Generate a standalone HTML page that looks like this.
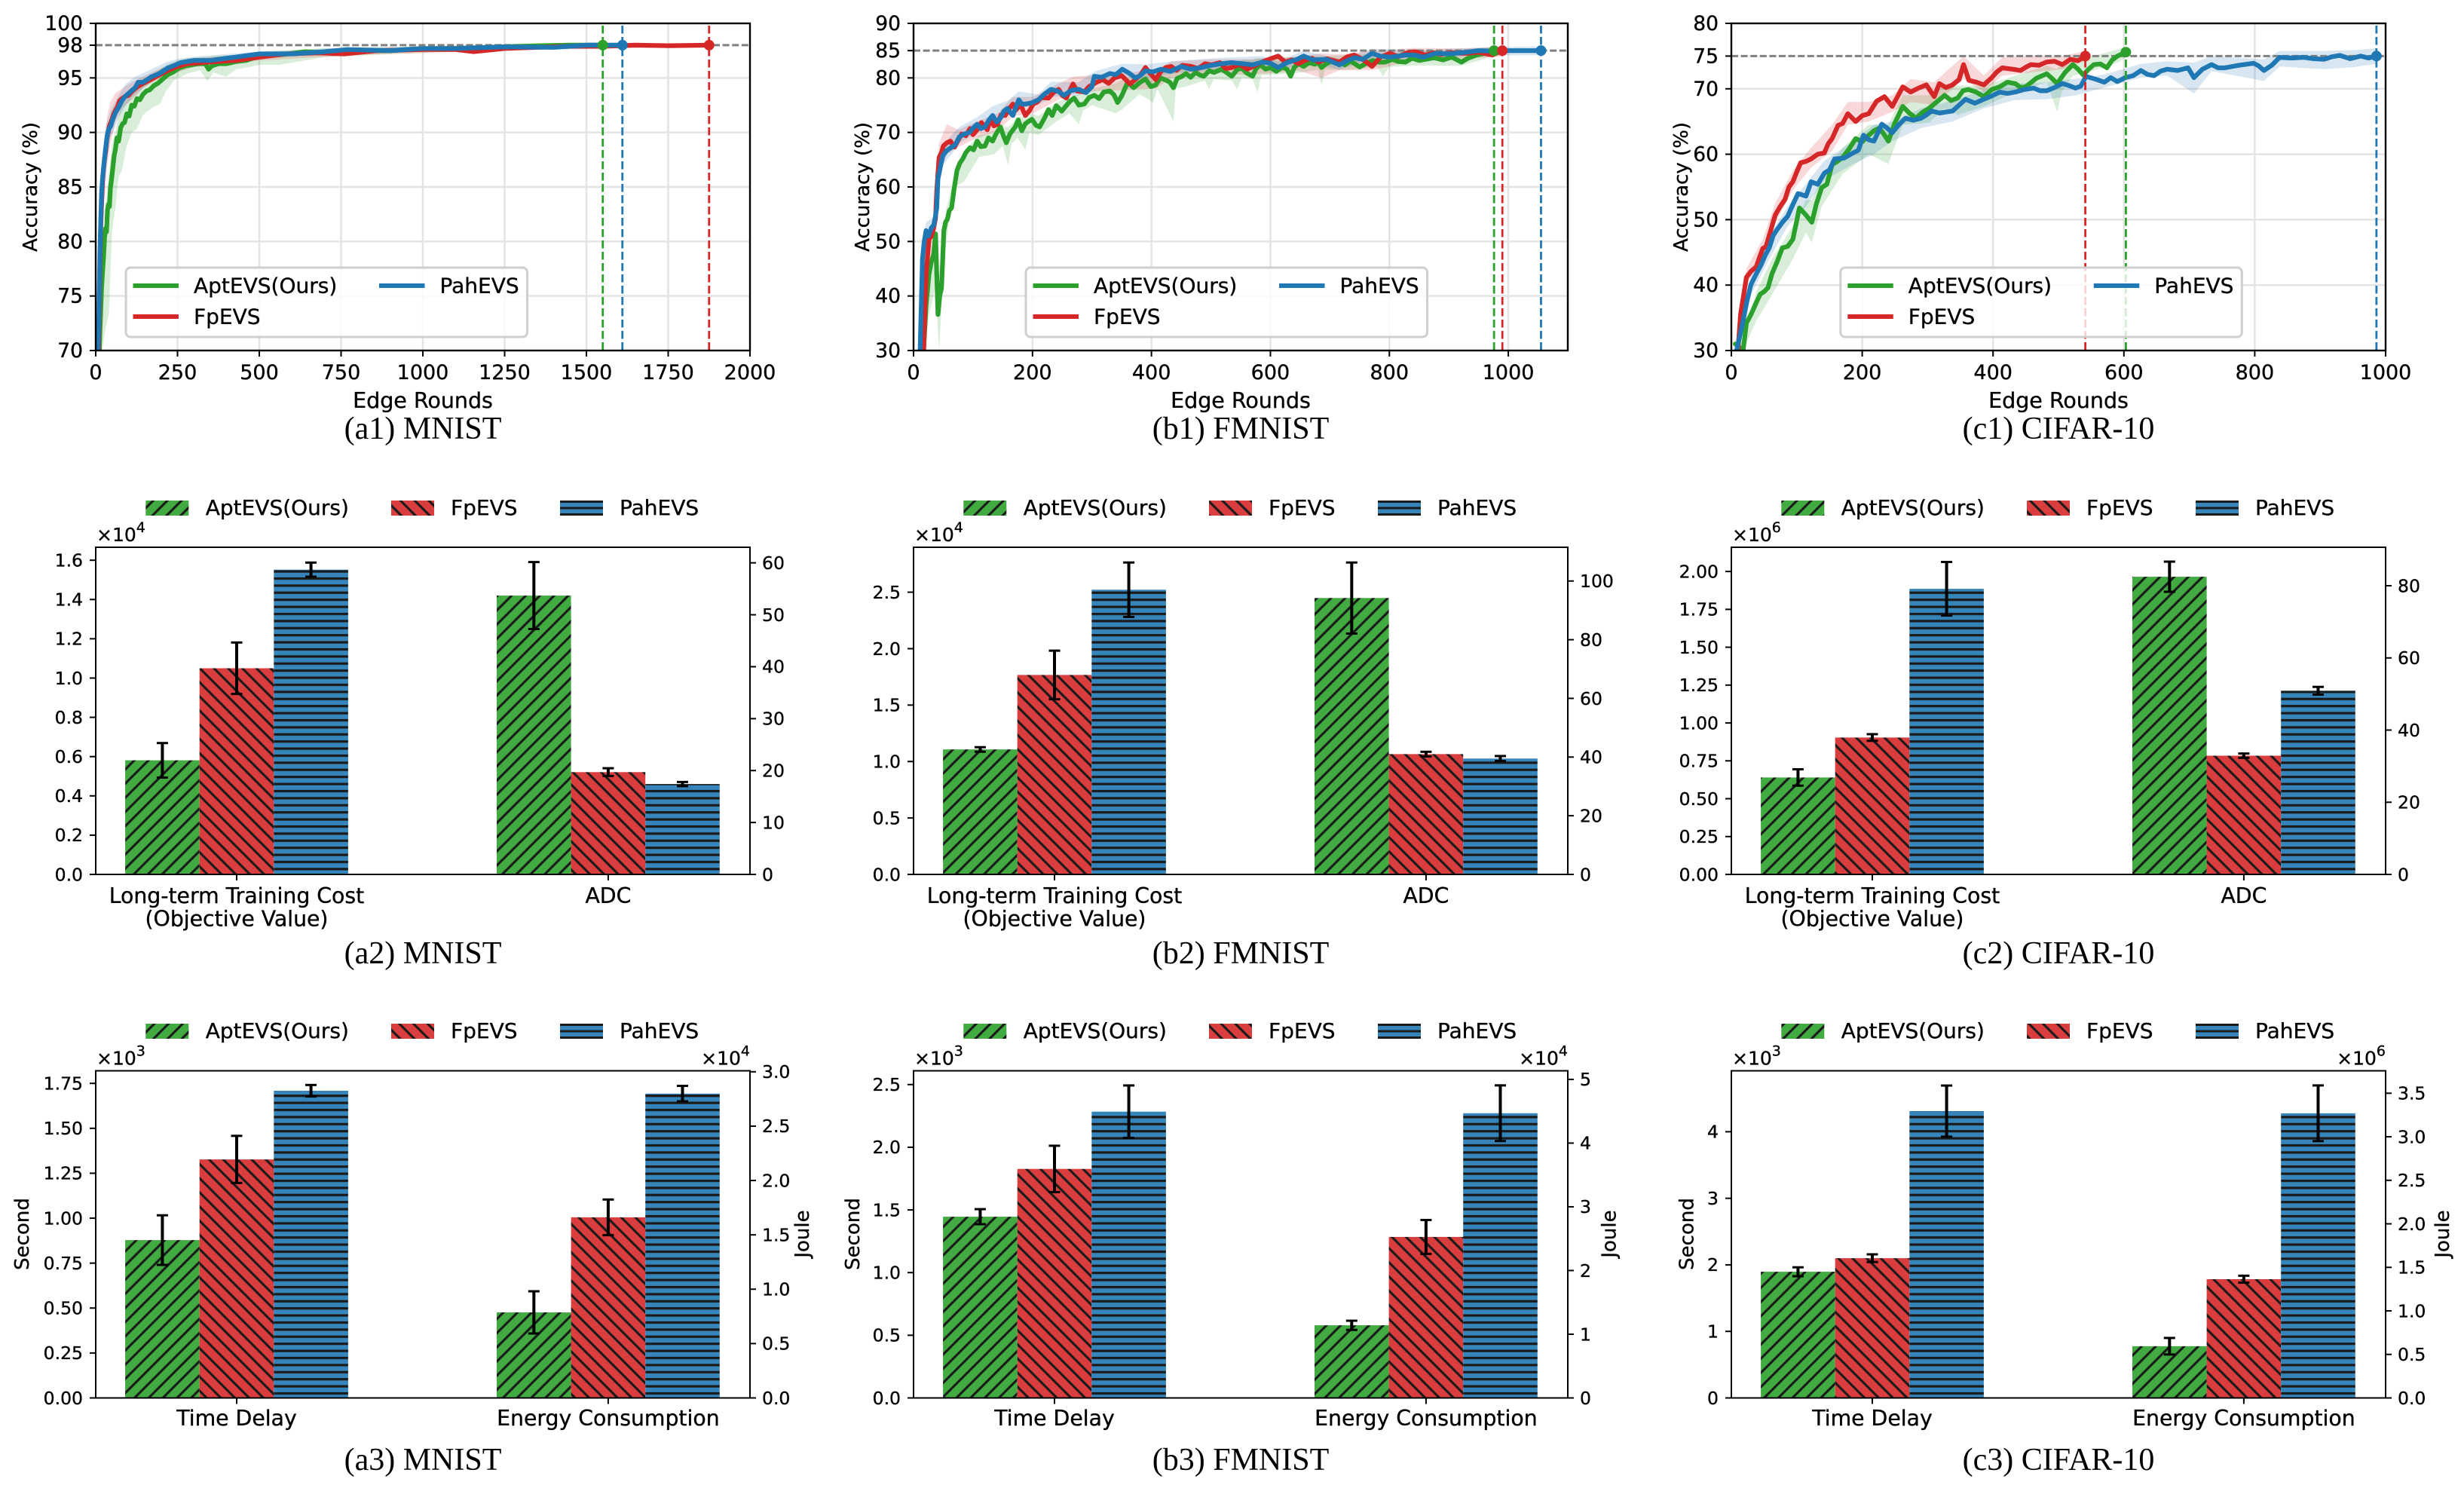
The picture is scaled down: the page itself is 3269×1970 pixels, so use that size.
<!DOCTYPE html>
<html lang="en">
<head>
<meta charset="utf-8">
<title>EVS comparison charts</title>
<style>
html,body{margin:0;padding:0;background:#fff;width:3269px;height:1970px;overflow:hidden}
svg{display:block}
text{font-family:"DejaVu Sans","Liberation Sans",sans-serif;fill:#000;stroke:#000;stroke-width:.35px}
text.caption{font-family:"Liberation Serif","DejaVu Serif",serif;stroke:none}
</style>
</head>
<body>
<svg id="figure" xmlns="http://www.w3.org/2000/svg" width="3269" height="1970" viewBox="0 0 3269 1970">
<defs>
<pattern id="hatch-green" patternUnits="userSpaceOnUse" width="18.8" height="18.8" patternTransform="translate(2.5 0)">
<rect width="18.8" height="18.8" fill="#41aa41"/>
<path d="M-2,20.8 L20.8,-2 M-2,2 L2,-2 M16.8,20.8 L20.8,16.8" stroke="#1a1a1a" stroke-width="3.1" fill="none"/>
</pattern>
<pattern id="hatch-red" patternUnits="userSpaceOnUse" width="18.8" height="18.8" patternTransform="translate(-1.1 0)">
<rect width="18.8" height="18.8" fill="#da3d3e"/>
<path d="M-2,-2 L20.8,20.8 M16.8,-2 L20.8,2 M-2,16.8 L2,20.8" stroke="#1a1a1a" stroke-width="3.1" fill="none"/>
</pattern>
<pattern id="hatch-blue" patternUnits="userSpaceOnUse" width="20" height="9.4" patternTransform="translate(0 784.7)">
<rect width="20" height="9.4" fill="#3585bb"/>
<rect width="20" height="3.2" fill="#1a1a1a"/>
</pattern>
</defs>
</svg>
<script>
/* ---------- shared labels ---------- */
const seriesNames = ['AptEVS(Ours)', 'FpEVS', 'PahEVS'];

/* ---------- (a1) MNIST accuracy ---------- */
const a1XTicks = ['0','250','500','750','1000','1250','1500','1750','2000'];
const a1YTicks = ['70','75','80','85','90','95','98','100'];
const a1GridY = [75,80,85,90,95];
const a1Target = [98];
const mnistAptRounds = [11,13,15,18,21,24,27,30,33,36,39,42,45,48,52,56,60,65,70,76,82,88,95,102,110,118,126,135,145,155,165,178,190,205,220,235,255,275,295,315,335,345,355,375,400,430,460,490,520,550,590,640,700,760,820,900,1000,1060,1130,1250,1350,1450,1550];
const mnistAptAcc = [70,71.8,73.4,75.8,77.2,78.6,80.3,81.2,80.9,82.9,83.4,83.2,84.9,85.6,86.7,87.8,88.4,89.5,89.2,90.4,90.8,90.9,91.7,91.5,92.5,92.4,93.1,93,93.5,93.8,93.9,94.3,94.5,94.9,95.3,95.5,95.9,96.1,96.2,96.3,96.3,95.8,96.1,96.3,96.3,96.5,96.6,96.9,97,97.1,97.2,97.4,97.3,97.5,97.5,97.5,97.7,97.6,97.7,97.85,97.95,98,98];
const mnistAptBandRounds = [11,20,30,40,50,60,70,80,95,110,125,145,160,175,196,215,240,280,320,341,360,398,430,470,500,560,700,1000,1300,1550];
const mnistAptLow = [70,70,72,73.3,81,83,86,86.5,88.8,90,90.3,91.6,92,92.3,92.6,93.8,94.8,95.4,95.7,94.7,95.5,95.1,95.8,96,96.2,96.2,96.9,97.3,97.7,97.8];
const mnistAptHigh = [71,77,83,86,89,90,91.5,92.5,93,93.7,94.4,94.9,95.1,95.4,95.8,96.2,96.5,96.8,96.9,96.9,97,97.1,97.1,97.3,97.4,97.5,97.7,97.9,98.1,98.2];
const mnistFpRounds = [9,11,13,15,18,21,24,27,30,34,38,42,46,50,55,60,66,73,80,90,100,112,128,145,165,190,215,245,280,320,370,430,500,580,680,760,860,1000,1100,1155,1250,1350,1450,1550,1650,1750,1875];
const mnistFpAcc = [70,74,78,81,83.5,85.6,86.7,87.6,88.2,89.4,90,90.6,90.9,91.2,91.7,92,92.3,92.9,93.1,93.3,93.4,93.8,94.2,94.5,94.8,95.2,95.6,96,96.3,96.4,96.5,96.6,96.9,97.2,97.3,97.2,97.5,97.6,97.6,97.4,97.7,97.8,97.9,97.9,98,97.95,98];
const mnistFpBandRounds = [9,15,25,35,45,60,80,110,150,200,300,500,800,1200,1500,1875];
const mnistFpLow = [70,76,83.5,87,89,91,92.2,93,94.2,95,96,96.6,97.1,97.5,97.7,97.8];
const mnistFpHigh = [72,84,89,91.5,92.8,93.6,94,94.6,95.2,95.9,96.8,97.2,97.6,98,98.2,98.2];
const mnistPahRounds = [7,9,11,13,15,18,21,25,30,35,40,46,52,60,70,80,90,105,120,130,145,170,195,220,245,260,300,350,400,450,500,600,700,770,900,1000,1100,1250,1400,1500,1610];
const mnistPahAcc = [70,72,75.5,79,81.5,84.5,85.8,87,88.5,89.7,90.3,90.6,91.2,91.8,92.3,92.9,93.3,93.7,94.1,94.6,94.6,95.1,95.4,95.9,96.2,96.4,96.6,96.6,96.8,97,97.2,97.2,97.4,97.6,97.5,97.7,97.7,97.85,97.8,98,98];
const mnistPahBandRounds = [7,12,20,30,45,70,90,120,170,220,260,320,450,700,1000,1400,1610];
const mnistPahLow = [70,73,82,86.5,89.5,91.3,92.4,93.5,94.6,95.5,96,96.3,96.7,97.2,97.5,97.6,97.7];
const mnistPahHigh = [71,80,87,90.5,92,93.4,94.4,95.1,95.8,96.5,96.8,97,97.3,97.7,97.9,98.1,98.2];

/* ---------- (b1) FMNIST accuracy ---------- */
const b1XTicks = ['0','200','400','600','800','1000'];
const b1YTicks = ['30','40','50','60','70','80','85','90'];
const b1GridY = [40,50,60,70,80];
const b1Target = [85];
const fmnistAptRounds = [17,21,26,30,34,37,41,44,47,51,54,57,60,64,68,73,78,83,88,95,101,107,113,120,126,133,139,146,151,156,162,171,176,182,188,193,199,206,212,220,227,233,240,249,256,263,270,278,287,295,304,312,320,330,337,343,350,360,370,381,390,399,407,415,424,431,437,443,450,458,466,474,482,488,497,505,518,526,535,544,552,560,570,576,583,592,600,610,620,628,634,640,647,656,665,675,680,686,694,702,716,725,735,750,760,772,782,793,805,815,827,838,850,861,875,890,905,921,932,947,960,976];
const fmnistAptAcc = [30,38.2,44,46.3,47.7,51.4,36.6,40,41.4,52,53.6,54.1,55.6,56.2,59.5,63,64.4,65.2,66.3,67.2,66.8,68.4,67.4,67.5,69,68.4,69.8,71,69.4,68.1,69.7,71,72.3,70.3,71.6,72,72.4,71.3,71,72.6,74.2,73.1,74.9,73.9,74.8,75.7,76.3,75,75.2,76.4,76.8,76.2,77.4,77.6,76.9,75.5,76.7,79.2,78.2,79.2,79.8,78.4,78.7,80,79.6,79.2,78.2,79.9,80.2,80.8,80.1,81,80.5,80.3,81.3,81,81.6,81,80.3,81.5,81.8,80.9,80.3,81.7,82.4,81.6,81.9,81.2,82,81.6,80.3,81.9,82.6,82.1,82.8,82.5,82.9,81.9,82.6,83,82.9,82.4,83.1,82,82.6,83.2,82.9,82.9,83.4,83,82.9,83.6,83.2,83.4,83.7,83.3,83.8,82.9,83.6,84.2,84.5,85];
const fmnistAptBandRounds = [17,25,37,43,47,55,69,85,110,135,150,159,165,175,188,195,210,240,262,278,285,300,340,348,380,403,410,437,441,460,490,497,505,535,544,552,570,578,585,640,680,686,692,730,780,789,800,850,920,976];
const fmnistAptLow = [30,36,42,30,38,50,60,61,65.5,66,67.5,64,68,69,66.8,70,69.5,72,73.5,71.5,74,75,73.5,74,77,75.5,78,72,78,78.5,79.5,77.9,79.8,79.5,77.9,80,79.8,77.4,80.5,80.8,81.5,78.6,81.5,81.5,82,80.3,82,82.3,82.2,84];
const fmnistAptHigh = [32,43,50,42,46,56,62,66.5,69.5,70,71,71,71.5,72.8,73,73.5,73,75.5,76.5,77,77.5,78,79,79.5,80.5,81,81.5,81.5,81.8,82,82.6,82.6,82.8,83,83,83.3,83.3,83.6,83.6,83.8,84,84,84,84.2,84.4,84.4,84.6,85,85.2,85.6];
const fmnistFpRounds = [17,21,26,30,34,37,39,43,47,50,56,62,69,75,81,88,95,100,107,114,124,130,135,141,147,154,160,167,172,180,188,195,201,208,215,227,235,244,250,257,262,268,275,287,295,308,318,328,338,350,364,372,382,390,398,407,416,424,433,442,452,467,478,490,501,515,525,535,548,561,575,590,600,613,625,636,647,660,670,681,695,716,728,741,755,771,785,801,815,830,844,860,875,887,905,930,950,973,990];
const fmnistFpAcc = [30,44,50.4,51,52.5,54.3,59.4,65.4,66.3,67.5,68.1,68.4,67.3,68.6,69.7,69.4,70.7,69.6,70.5,71.8,70.5,72.6,71.2,71.5,73.2,73.1,74.3,75.2,74.1,75.1,73.1,74,75.2,75.6,76.4,76.3,77.3,77.9,76.8,76.3,77.5,78.9,77.6,77.4,78.4,79.2,79.7,79,80,80.4,78.9,79.6,80.6,81.9,80.8,79.7,81.2,81.9,82.1,81.4,82.3,82.1,81.7,82.6,82.4,82.8,81.7,81.9,82.5,81.6,82.3,83.1,83.5,84,82.9,83.3,82.6,83.3,83.6,82.9,83.5,82.9,83.8,84.2,83.4,82.1,83.8,84.5,83.9,84.6,84.8,84.2,84.6,84.3,84.6,84.5,84.7,84.2,85];
const fmnistFpBandRounds = [17,24,34,43,56,75,107,141,167,201,244,268,308,364,407,433,501,561,647,686,716,771,844,930,990];
const fmnistFpLow = [30,42,50,62,66,67.3,69,70.2,73,73.5,76,77,77.6,77.8,78,80,81,80.5,81.3,80,81.4,81.4,83.3,83.6,83.9];
const fmnistFpHigh = [31,47,54,68,71.5,70.5,72,73.5,76.5,76.5,79,80.2,80.6,81,81.5,83,83.4,83.4,83.9,84.5,84.3,85,85.5,85.4,85.8];
const fmnistPahRounds = [11,15,18,21,25,30,34,37,39,41,45,49,55,64,70,77,85,94,100,107,113,120,127,133,140,146,152,158,163,167,172,177,182,188,198,210,220,231,242,253,265,278,290,300,304,316,330,340,351,362,373,381,390,402,416,432,450,466,484,500,518,535,553,570,587,600,613,628,645,656,672,694,705,716,728,741,755,771,785,801,815,827,842,857,878,900,930,950,973,1000,1030,1055];
const fmnistPahAcc = [30,46.7,50,52,51,52.5,53,54.7,56.2,61.5,63.6,65.7,66.6,67.3,67.7,69.2,69.7,70,70.8,71.5,70.7,71,72.3,73.1,71.9,72.6,73.9,74.4,73.6,73.1,74.6,76,75.2,75.2,75.4,76,77,77.9,77.6,76.8,77.7,77.9,77.3,78.4,80.3,80.1,80.8,80.6,81.6,80.9,80,80.4,81.3,81.1,81.6,81.2,82.1,81.6,81.9,82.3,82.6,82.8,82.6,82.4,82.9,82.7,81.9,82.8,83.4,84,83.3,83.4,82.9,82.4,83.1,83.7,83.4,84.5,84,83.8,84,84.2,84.2,83.8,84.5,84.4,84.7,85,84.9,85,85,85];
const fmnistPahBandRounds = [11,15,21,34,41,49,64,77,107,133,158,177,210,231,278,304,351,390,450,518,587,613,656,716,771,857,930,1055];
const fmnistPahLow = [30,44,50,51.5,59,64,66,68,70,71.5,73,74.5,75,76.5,76.8,79,80,80,81,81.5,81.8,81,83,81.5,83.5,83.1,84.1,84.2];
const fmnistPahHigh = [31,49,53.5,54.5,63,67.5,69.5,71,72.8,74.8,75.8,77.5,77,79.3,79.2,81.2,82.6,82.5,83.2,83.7,84,83,85,83.5,85.3,85,85.5,85.8];

/* ---------- (c1) CIFAR-10 accuracy ---------- */
const c1XTicks = ['0','200','400','600','800','1000'];
const c1YTicks = ['30','40','50','60','70','75','80'];
const c1GridY = [40,50,60,70];
const c1Target = [75];
const cifarAptRounds = [6,12,18,23,30,38,44,50,56,62,70,78,86,94,104,114,123,130,138,146,154,162,170,180,190,200,210,218,226,233,240,250,262,272,282,292,302,314,326,336,346,354,362,374,386,398,410,422,434,442,450,466,482,490,498,510,522,530,538,546,554,564,574,582,590,603];
const cifarAptAcc = [31,30.5,30,34.2,35.5,37.3,38.6,39,39.6,41.7,43.6,45.7,45.9,47,51.8,50.7,49.6,52.4,54.9,55.4,58.4,58.9,59.5,60.8,62.4,61.9,62.9,63.6,64,63.1,62,64.8,67.3,66.3,65.5,66.4,67,68,69,68.2,68.6,69.7,69.9,69.5,68.8,69.9,70.3,71,70.8,70.2,70.3,71.6,72.3,71.6,70.8,72.5,73.7,73,72.1,73,73.7,73.8,73.2,74.4,75,75.6];
const cifarAptBandRounds = [6,18,38,62,94,114,123,138,170,210,240,262,302,326,346,386,434,482,498,505,522,554,590,603];
const cifarAptLow = [30,30,34.5,38.5,44,48,46.5,52,57,60,58.5,64.5,64.8,67,66,67.3,69.5,71,66.5,69.5,72,72.8,74,74.8];
const cifarAptHigh = [31.5,32,39,44,49,53,53,56.5,61,64.5,64.5,69,69,70.5,70.5,70.5,72,73.5,73,74,75,75,76,76.5];
const cifarFpRounds = [10,14,18,23,30,38,43,48,53,58,67,74,82,88,94,100,106,114,122,132,142,148,154,163,170,178,190,200,210,222,234,246,254,262,274,286,298,310,318,328,338,348,355,363,375,386,398,406,414,422,430,442,450,458,470,482,494,506,518,530,541];
const cifarFpAcc = [30,35.5,38,41.2,42.1,42.8,44.2,45.6,45.9,47.6,50.7,51.9,53.1,55,55.8,57.3,58.7,58.9,59.3,60,60.2,61.6,62.4,64.4,64.7,66.2,65,65.9,66.2,68.1,68.8,67.3,68.8,70.3,69.5,70.1,70.6,68.8,70.8,70.2,70.6,71.4,73.7,71.3,71,70.6,71.7,72.6,73.2,73.1,73,72.8,73.3,73.7,73.6,74.1,74.2,73.7,74.5,74.3,75];
const cifarFpBandRounds = [10,23,48,67,94,122,154,178,210,246,274,310,355,386,414,458,506,541];
const cifarFpLow = [30,40,44.5,49.5,54.5,58,60.5,64.5,65,66.5,68,67.5,71.5,69.5,72,72.5,73,74.3];
const cifarFpHigh = [31,42.5,47,52.5,57.5,61,64.5,68,68,69,71.5,71,75,72,74.8,75,75,75.8];
const cifarPahRounds = [8,12,18,24,30,38,46,52,58,64,70,78,86,94,102,114,122,132,142,150,158,172,186,194,202,210,218,230,238,246,256,266,278,290,298,306,318,338,348,358,372,386,398,410,422,434,448,462,472,482,494,506,516,526,534,542,556,570,580,590,602,614,626,636,646,656,666,682,698,707,720,734,744,754,776,798,806,814,826,838,856,874,890,906,918,930,946,962,974,986];
const cifarPahAcc = [30,31.8,34.6,37.6,40.1,41.7,43.2,44.6,45.7,47.6,48.5,49.6,50.5,52.3,54,53.6,55.8,55.4,57.1,57.6,59.3,59.4,60.2,60.6,62.9,62.2,62,64.6,64,63.3,64.5,65.5,65.2,65.5,66,66.6,66.3,66.6,67.5,68.4,67.8,68.4,68.9,69.5,69.3,69.5,69.9,70.1,69.7,69.7,70.2,70.8,70.5,70.1,70.4,71.9,71.5,71,71.7,71.1,71.7,72,72.8,72.2,72,72.7,73,72.8,73.2,71.7,73,73.7,73.2,73.2,73.6,73.9,73.5,72.8,73.6,74.8,74.7,74.8,74.6,74.5,74.9,75.1,74.6,75,74.7,75];
const cifarPahBandRounds = [8,30,58,86,114,142,186,218,246,290,338,386,434,482,526,570,626,666,707,734,814,838,906,950,986];
const cifarPahLow = [30,38.5,44,49,52,56,58.5,60,62,64,65,67,68.3,68.4,69,70.2,71.7,72,69.3,72.7,71.2,73.4,73,73.3,73.8];
const cifarPahHigh = [31,41.5,47.5,52,55.5,59,62,64.5,65,67,68.2,69.8,70.8,71,71.5,72.2,73.8,74.2,74,75,74.5,75.8,75.8,75.9,76.2];

/* ---------- bar chart categories ---------- */
const row2Categories = [['Long-term Training Cost','(Objective Value)'],['ADC']];
const row3Categories = [['Time Delay'],['Energy Consumption']];

/* ---------- (a2) ---------- */
const a2LeftTicks = ['0.0','0.2','0.4','0.6','0.8','1.0','1.2','1.4','1.6'];
const a2RightTicks = ['0','10','20','30','40','50','60'];
const a2LeftMeans = [0.581,1.05,1.552];
const a2LeftErrs = [0.088,0.131,0.036];
const a2RightMeans = [53.7,19.7,17.4];
const a2RightErrs = [6.45,0.75,0.4];
/* ---------- (b2) ---------- */
const b2LeftTicks = ['0.0','0.5','1.0','1.5','2.0','2.5'];
const b2RightTicks = ['0','20','40','60','80','100'];
const b2LeftMeans = [1.107,1.767,2.522];
const b2LeftErrs = [0.02,0.215,0.241];
const b2RightMeans = [94.2,41,39.5];
const b2RightErrs = [12.1,0.8,0.85];
/* ---------- (c2) ---------- */
const c2LeftTicks = ['0.00','0.25','0.50','0.75','1.00','1.25','1.50','1.75','2.00'];
const c2RightTicks = ['0','20','40','60','80'];
const c2LeftMeans = [0.64,0.904,1.886];
const c2LeftErrs = [0.054,0.022,0.177];
const c2RightMeans = [82.5,32.9,50.9];
const c2RightErrs = [4.18,0.6,1.07];
/* ---------- (a3) ---------- */
const a3LeftTicks = ['0.00','0.25','0.50','0.75','1.00','1.25','1.50','1.75'];
const a3RightTicks = ['0.0','0.5','1.0','1.5','2.0','2.5','3.0'];
const a3LeftMeans = [0.878,1.327,1.709];
const a3LeftErrs = [0.138,0.131,0.032];
const a3RightMeans = [0.787,1.661,2.799];
const a3RightErrs = [0.194,0.164,0.071];
/* ---------- (b3) ---------- */
const b3LeftTicks = ['0.0','0.5','1.0','1.5','2.0','2.5'];
const b3RightTicks = ['0','1','2','3','4','5'];
const b3LeftMeans = [1.446,1.827,2.284];
const b3LeftErrs = [0.06,0.185,0.209];
const b3RightMeans = [1.14,2.527,4.469];
const b3RightErrs = [0.072,0.266,0.437];
/* ---------- (c3) ---------- */
const c3LeftTicks = ['0','1','2','3','4'];
const c3RightTicks = ['0.0','0.5','1.0','1.5','2.0','2.5','3.0','3.5'];
const c3LeftMeans = [1.896,2.1,4.31];
const c3LeftErrs = [0.067,0.058,0.384];
const c3RightMeans = [0.594,1.364,3.27];
const c3RightErrs = [0.095,0.04,0.32];

/* ---------- drawing ---------- */
const NS = 'http://www.w3.org/2000/svg';
const root = document.getElementById('figure');
const LINE_COLORS = ['#2ca02c','#d62728','#1f77b4'];
const HATCHES = ['url(#hatch-green)','url(#hatch-red)','url(#hatch-blue)'];
const COLUMN_LEFT = [127,1212,2297];
const AXES_W = 868, AXES_H = 434;

function make(tag, attrs, parent) {
  const node = document.createElementNS(NS, tag);
  for (const k in attrs) node.setAttribute(k, attrs[k]);
  parent.appendChild(node);
  return node;
}
function line(parent, x1, y1, x2, y2, stroke, width, extra) {
  return make('line', Object.assign({x1:x1,y1:y1,x2:x2,y2:y2,stroke:stroke,'stroke-width':width}, extra || {}), parent);
}
function label(parent, str, x, y, size, anchor, extra) {
  const t = make('text', Object.assign({x:x,y:y,'font-size':size,'text-anchor':anchor}, extra || {}), parent);
  t.textContent = str;
  return t;
}
function scale(d0, d1, r0, r1) { return v => r0 + (v - d0) * (r1 - r0) / (d1 - d0); }
function spines(g, left, top, lw) {
  const r = make('rect', {x:left,y:top,width:AXES_W,height:AXES_H,fill:'none',stroke:'#000','stroke-width':lw}, g);
  
  
}
function caption(g, str, cx, y) {
  const t = label(g, str, cx, y, 42, 'middle', {class:'caption'});
  
  
}

function drawLineChart(cfg) {
  const g = make('g', {}, root);
  
  
  const left = cfg.left, top = 31, right = left + AXES_W, bottom = top + AXES_H;
  const X = scale(0, cfg.xMax, left, right), Y = scale(cfg.yMin, cfg.yMax, bottom, top);
  const clipId = 'clip-' + cfg.id;
  const cp = make('clipPath', {id:clipId}, g);
  make('rect', {x:left,y:top,width:AXES_W,height:AXES_H}, cp);

  cfg.xTicks.forEach(s => {
    const v = parseFloat(s), px = X(v);
    if (v > 0 && v < cfg.xMax) {
      const gl = line(g, px, top, px, bottom, '#e4e4e4', 2.5);
      
      
    }
    const tk = line(g, px, bottom, px, bottom + 8, '#000', 2);
    
    
    const tl = label(g, s, px, 503, 27, 'middle');
    
    
  });
  cfg.gridY.forEach(v => {
    const gl = line(g, left, Y(v), right, Y(v), '#e4e4e4', 2.5);
    
    
  });
  cfg.yTicks.forEach(s => {
    const v = parseFloat(s), py = Y(v);
    const tk = line(g, left - 8, py, left, py, '#000', 2);
    
    
    const tl = label(g, s, left - 17, py + 9, 26.5, 'end');
    
    
  });

  const plot = make('g', {'clip-path':'url(#' + clipId + ')'}, g);
  cfg.series.forEach((s, i) => {
    const up = s.bandX.map((r, k) => X(r).toFixed(1) + ',' + Y(s.hi[k]).toFixed(1));
    const dn = s.bandX.map((r, k) => X(r).toFixed(1) + ',' + Y(s.lo[k]).toFixed(1)).reverse();
    const band = make('polygon', {points:up.concat(dn).join(' '),fill:LINE_COLORS[i],'fill-opacity':0.18,stroke:'none'}, plot);
    
    
  });
  const tg = line(plot, left, Y(cfg.target[0]), right, Y(cfg.target[0]), '#808080', 3, {'stroke-dasharray':'9 3.6'});
  
  
  cfg.series.forEach((s, i) => {
    const n = Math.min(s.x.length, s.y.length), pts = [];
    for (let k = 0; k < n; k++) pts.push(X(s.x[k]).toFixed(1) + ',' + Y(s.y[k]).toFixed(1));
    const pl = make('polyline', {points:pts.join(' '),fill:'none',stroke:LINE_COLORS[i],'stroke-width':6.2,'stroke-linejoin':'round','stroke-linecap':'round'}, plot);
    
    
  });
  cfg.series.forEach((s, i) => {
    const n = Math.min(s.x.length, s.y.length), ex = X(s.x[n - 1]), ey = Y(s.y[n - 1]);
    const vl = line(g, ex, top + 3, ex, bottom, LINE_COLORS[i], 2.8, {'stroke-dasharray':'10.5 4.5'});
    
    
    const dot = make('circle', {cx:ex,cy:ey,r:7,fill:LINE_COLORS[i]}, g);
    
    
  });
  spines(g, left, top, 2.4);

  const xl = label(g, 'Edge Rounds', (left + right) / 2, 541, 28.5, 'middle');
  
  
  const yx = cfg.yLabelX + 9;
  const yl = label(g, 'Accuracy (%)', yx, 248, 26, 'middle', {transform:'rotate(-90 ' + yx + ' 248)'});
  
  

  const lg = make('g', {}, g);
  
  
  const fx = cfg.legendX;
  const fr = make('rect', {x:fx,y:355,width:532.5,height:92,rx:6,ry:6,fill:'#fff','fill-opacity':0.8,stroke:'#cfcfcf','stroke-width':3}, lg);
  
  
  const slots = [[9.5,379],[9.5,420],[336,379]];
  seriesNames.forEach((nm, i) => {
    const h = line(lg, fx + slots[i][0], slots[i][1], fx + slots[i][0] + 60.5, slots[i][1], LINE_COLORS[i], 6);
    
    
    const t = label(lg, nm, fx + slots[i][0] + 80.5, slots[i][1] + 9.5, 28, 'start');
    
    
  });
  caption(g, cfg.caption, (left + right) / 2 + cfg.captionShift, 582);
}

function offsetText(g, exp, x, y, anchor) {
  const t = label(g, '×10', x, y, 25, anchor);
  const sup = make('tspan', {dy:-12,'font-size':19}, t);
  sup.textContent = exp;
  
  
}

function drawBarChart(cfg) {
  const g = make('g', {}, root);
  
  
  const left = cfg.left, top = cfg.top, right = left + AXES_W, bottom = top + AXES_H;
  const unit = 492.9, x0 = left + 187;
  const barW = unit * 0.2;
  const YL = scale(0, cfg.leftMax, bottom, top), YR = scale(0, cfg.rightMax, bottom, top);
  const groups = [[cfg.leftMeans, cfg.leftErrs, YL],[cfg.rightMeans, cfg.rightErrs, YR]];

  groups.forEach((grp, gi) => {
    const cx = x0 + gi * unit;
    grp[0].forEach((m, i) => {
      const bx = cx + (i - 1) * barW - barW / 2, by = grp[2](m);
      const b = make('rect', {x:bx.toFixed(1),y:by.toFixed(1),width:barW.toFixed(1),height:(bottom - by).toFixed(1),fill:HATCHES[i]}, g);
      
      
    });
    grp[0].forEach((m, i) => {
      const ex = cx + (i - 1) * barW, hi = grp[2](m + grp[1][i]), lo = grp[2](m - grp[1][i]);
      const e = make('g', {}, g);
      
      
      line(e, ex, hi, ex, lo, '#000', 4);
      line(e, ex - 7.5, hi, ex + 7.5, hi, '#000', 3);
      line(e, ex - 7.5, lo, ex + 7.5, lo, '#000', 3);
    });
    const tk = line(g, cx, bottom, cx, bottom + 8, '#000', 2);
    
    
    cfg.categories[gi].forEach((s, k) => {
      const tl = label(g, s, cx, cfg.catY + k * 30.5, 28.3, 'middle');
      
      
    });
  });
  cfg.leftTicks.forEach(s => {
    const py = YL(parseFloat(s));
    const tk = line(g, left - 8, py, left, py, '#000', 2);
    
    
    const tl = label(g, s, left - 17, py + 8.3, 23.5, 'end');
    
    
  });
  cfg.rightTicks.forEach(s => {
    const py = YR(parseFloat(s));
    const tk = line(g, right, py, right + 8, py, '#000', 2);
    
    
    const tl = label(g, s, right + 16, py + 8.3, 23.5, 'start');
    
    
  });
  spines(g, left, top, 2);
  offsetText(g, cfg.leftExp, left + 1, top - 8, 'start');
  if (cfg.rightExp) offsetText(g, cfg.rightExp, right + cfg.rightExpShift, top - 8, 'end');
  if (cfg.secondX) {
    const sx = cfg.secondX + 9, cy = 1637;
    const yl = label(g, 'Second', sx, cy, 26, 'middle', {transform:'rotate(-90 ' + sx + ' ' + cy + ')'});
    
    
    const jx = cfg.jouleX + 9;
    const yr = label(g, 'Joule', jx, cy, 26, 'middle', {transform:'rotate(-90 ' + jx + ' ' + cy + ')'});
    
    
  }
  const lg = make('g', {}, g);
  
  
  const dx = left - 127, ly = cfg.legendY;
  const hx = [193.3,519,743], tx = [272.7,598,822];
  seriesNames.forEach((nm, i) => {
    const h = make('rect', {x:hx[i] + dx,y:ly,width:57,height:20,fill:i === 2 ? '#3585bb' : HATCHES[i]}, lg);
    
    
    if (i === 2) {
      [1.5,10,18.5].forEach(o => { line(lg, hx[i] + dx, ly + o, hx[i] + dx + 57, ly + o, '#1a1a1a', 3); });
    }
    const t = label(lg, nm, tx[i] + dx, ly + 19, 28, 'start');
    
    
  });
  caption(g, cfg.caption, left + AXES_W / 2 + cfg.captionShift, cfg.captionY);
}

drawLineChart({id:'a1',left:COLUMN_LEFT[0],xMax:2000,yMin:70,yMax:100,xTicks:a1XTicks,yTicks:a1YTicks,gridY:a1GridY,target:a1Target,yLabelX:40,legendX:167,caption:'(a1) MNIST',captionShift:0,series:[
  {x:mnistAptRounds,y:mnistAptAcc,bandX:mnistAptBandRounds,lo:mnistAptLow,hi:mnistAptHigh},
  {x:mnistFpRounds,y:mnistFpAcc,bandX:mnistFpBandRounds,lo:mnistFpLow,hi:mnistFpHigh},
  {x:mnistPahRounds,y:mnistPahAcc,bandX:mnistPahBandRounds,lo:mnistPahLow,hi:mnistPahHigh}]});
drawLineChart({id:'b1',left:COLUMN_LEFT[1],xMax:1100,yMin:30,yMax:90,xTicks:b1XTicks,yTicks:b1YTicks,gridY:b1GridY,target:b1Target,yLabelX:1144,legendX:1361,caption:'(b1) FMNIST',captionShift:0,series:[
  {x:fmnistAptRounds,y:fmnistAptAcc,bandX:fmnistAptBandRounds,lo:fmnistAptLow,hi:fmnistAptHigh},
  {x:fmnistFpRounds,y:fmnistFpAcc,bandX:fmnistFpBandRounds,lo:fmnistFpLow,hi:fmnistFpHigh},
  {x:fmnistPahRounds,y:fmnistPahAcc,bandX:fmnistPahBandRounds,lo:fmnistPahLow,hi:fmnistPahHigh}]});
drawLineChart({id:'c1',left:COLUMN_LEFT[2],xMax:1000,yMin:30,yMax:80,xTicks:c1XTicks,yTicks:c1YTicks,gridY:c1GridY,target:c1Target,yLabelX:2230,legendX:2441.8,caption:'(c1) CIFAR-10',captionShift:0,series:[
  {x:cifarAptRounds,y:cifarAptAcc,bandX:cifarAptBandRounds,lo:cifarAptLow,hi:cifarAptHigh},
  {x:cifarFpRounds,y:cifarFpAcc,bandX:cifarFpBandRounds,lo:cifarFpLow,hi:cifarFpHigh},
  {x:cifarPahRounds,y:cifarPahAcc,bandX:cifarPahBandRounds,lo:cifarPahLow,hi:cifarPahHigh}]});

const row2 = {top:726,catY:1198,legendY:664,captionY:1278,categories:row2Categories,rightExp:null};
const row3 = {top:1420.5,catY:1891,legendY:1358,captionY:1950,categories:row3Categories};
drawBarChart(Object.assign({},row2,{id:'a2',left:COLUMN_LEFT[0],leftMax:1.666,rightMax:63,leftTicks:a2LeftTicks,rightTicks:a2RightTicks,leftMeans:a2LeftMeans,leftErrs:a2LeftErrs,rightMeans:a2RightMeans,rightErrs:a2RightErrs,leftExp:'4',caption:'(a2) MNIST',captionShift:0}));
drawBarChart(Object.assign({},row2,{id:'b2',left:COLUMN_LEFT[1],leftMax:2.898,rightMax:111.5,leftTicks:b2LeftTicks,rightTicks:b2RightTicks,leftMeans:b2LeftMeans,leftErrs:b2LeftErrs,rightMeans:b2RightMeans,rightErrs:b2RightErrs,leftExp:'4',caption:'(b2) FMNIST',captionShift:0}));
drawBarChart(Object.assign({},row2,{id:'c2',left:COLUMN_LEFT[2],leftMax:2.16,rightMax:90.66,leftTicks:c2LeftTicks,rightTicks:c2RightTicks,leftMeans:c2LeftMeans,leftErrs:c2LeftErrs,rightMeans:c2RightMeans,rightErrs:c2RightErrs,leftExp:'6',caption:'(c2) CIFAR-10',captionShift:0}));
drawBarChart(Object.assign({},row3,{id:'a3',left:COLUMN_LEFT[0],leftMax:1.82,rightMax:3.009,leftTicks:a3LeftTicks,rightTicks:a3RightTicks,leftMeans:a3LeftMeans,leftErrs:a3LeftErrs,rightMeans:a3RightMeans,rightErrs:a3RightErrs,leftExp:'3',rightExp:'4',rightExpShift:0,secondX:29,jouleX:1064,caption:'(a3) MNIST',captionShift:0}));
drawBarChart(Object.assign({},row3,{id:'b3',left:COLUMN_LEFT[1],leftMax:2.61,rightMax:5.135,leftTicks:b3LeftTicks,rightTicks:b3RightTicks,leftMeans:b3LeftMeans,leftErrs:b3LeftErrs,rightMeans:b3RightMeans,rightErrs:b3RightErrs,leftExp:'3',rightExp:'4',rightExpShift:0,secondX:1131,jouleX:2134.5,caption:'(b3) FMNIST',captionShift:0}));
drawBarChart(Object.assign({},row3,{id:'c3',left:COLUMN_LEFT[2],leftMax:4.916,rightMax:3.758,leftTicks:c3LeftTicks,rightTicks:c3RightTicks,leftMeans:c3LeftMeans,leftErrs:c3LeftErrs,rightMeans:c3RightMeans,rightErrs:c3RightErrs,leftExp:'3',rightExp:'6',rightExpShift:0,secondX:2237.6,jouleX:3240,caption:'(c3) CIFAR-10',captionShift:0}));
</script>
</body>
</html>
